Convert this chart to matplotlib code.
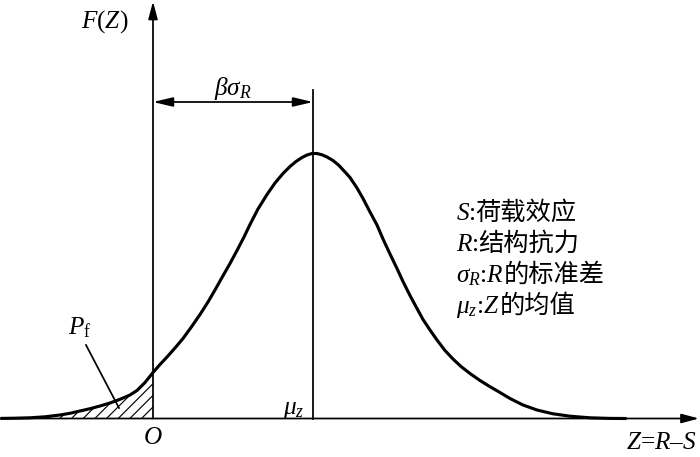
import matplotlib
matplotlib.use("Agg")
import matplotlib.pyplot as plt
from matplotlib.offsetbox import TextArea, HPacker, AnnotationBbox

plt.rcParams["mathtext.fontset"] = "custom"
plt.rcParams["mathtext.it"] = "Liberation Serif:italic"
plt.rcParams["mathtext.rm"] = "Liberation Serif"
plt.rcParams["mathtext.bf"] = "Liberation Serif:bold"
plt.rcParams["hatch.linewidth"] = 0.6

# density curve of Z = R - S (arbitrary units)
z_vals = [-1.51, -1.38, -1.23, -1.08, -0.93, -0.83, -0.73, -0.63, -0.53, -0.43,
          -0.33, -0.23, -0.16, -0.08, 0.00, 0.07, 0.14, 0.22, 0.30, 0.38,
          0.47, 0.55, 0.62, 0.69, 0.77, 0.84, 0.91, 0.97, 1.05, 1.14,
          1.22, 1.30, 1.37, 1.43, 1.49, 1.54, 1.59, 1.64, 1.69, 1.74,
          1.80, 1.86, 1.92, 1.97, 2.04, 2.10, 2.17, 2.24, 2.30, 2.37,
          2.44, 2.50, 2.57, 2.64, 2.70, 2.77, 2.84, 2.92, 3.00, 3.08,
          3.17, 3.27, 3.37, 3.47, 3.57, 3.70, 3.84, 4.00, 4.17, 4.37,
          4.57, 4.72]
f_vals = [0.001, 0.003, 0.007, 0.017, 0.035, 0.052, 0.075, 0.098, 0.125, 0.155,
          0.192, 0.235, 0.280, 0.360, 0.460, 0.540, 0.615, 0.705, 0.800, 0.910,
          1.040, 1.165, 1.285, 1.410, 1.550, 1.680, 1.815, 1.940, 2.095, 2.240,
          2.355, 2.450, 2.520, 2.570, 2.610, 2.635, 2.650, 2.650, 2.637, 2.615,
          2.580, 2.530, 2.465, 2.410, 2.305, 2.200, 2.065, 1.935, 1.795, 1.645,
          1.500, 1.370, 1.230, 1.100, 0.990, 0.885, 0.785, 0.680, 0.595, 0.520,
          0.450, 0.380, 0.318, 0.260, 0.200, 0.135, 0.085, 0.047, 0.023, 0.007,
          0.001, 0.000]
mu_z = 1.60

legend_math = ["$S$:", "$R$:", r"$\sigma_R$:$R$", r"$\mu_z$:$Z$"]
legend_cn = ["荷载效应", "结构抗力", "的标准差", "的均值"]

LATIN = 13
CJK = 13

fig = plt.figure(figsize=(5, 457 / 140), dpi=140)
ax = fig.add_axes([0, 0, 1, 1])
ax.set_xlim(-1.53, 5.47)
ax.set_ylim(-0.385, 4.185)
ax.axis("off")

# failure region P_f
ax.fill_between(z_vals, 0, f_vals, where=[z <= 0 for z in z_vals],
                facecolor="none", edgecolor="k", hatch="////", linewidth=0)
ax.plot(z_vals, f_vals, color="k", lw=1.6, solid_joinstyle="round")

# axes with arrows
axis_arrow = dict(arrowstyle="-|>,head_length=0.75,head_width=0.2",
                  color="k", lw=0.9, shrinkA=0, shrinkB=0, mutation_scale=10)
ax.annotate("", xy=(5.46, 0), xytext=(-1.53, 0), arrowprops=axis_arrow)
ax.annotate("", xy=(0, 4.17), xytext=(0, 0), arrowprops=axis_arrow)

# mean line and beta*sigma dimension
ax.plot([mu_z, mu_z], [0, 3.285], color="k", lw=0.9)
ax.annotate("", xy=(mu_z, 3.165), xytext=(0, 3.165),
            arrowprops=dict(arrowstyle="<|-|>,head_length=0.85,head_width=0.2",
                            color="k", lw=0.9, shrinkA=0, shrinkB=0,
                            mutation_scale=10))
ax.text(mu_z / 2, 3.30, r"$\beta\sigma_R$", fontsize=LATIN, ha="center", va="center")

# labels
ax.text(-0.48, 3.965, r"$F\mathrm{(}Z\mathrm{)}$", fontsize=LATIN, ha="center", va="center")
ax.text(0, -0.18, "$O$", fontsize=LATIN, ha="center", va="center")
ax.text(1.41, 0.095, r"$\mu_z$", fontsize=LATIN, ha="center", va="center")
ax.text(5.44, -0.245, "$Z$=$R$–$S$", fontsize=LATIN, family="Liberation Serif",
        ha="right", va="center")
ax.text(-0.735, 0.905, r"$P_\mathrm{f}$", fontsize=LATIN, ha="center", va="center")
ax.plot([-0.67, -0.34], [0.735, 0.105], color="k", lw=0.9)

# legend block
legend_y = [2.055, 1.745, 1.435, 1.125]
for m, c, y in zip(legend_math, legend_cn, legend_y):
    box = HPacker(children=[
        TextArea(m, textprops=dict(fontsize=LATIN, family="Liberation Serif")),
        TextArea(c, textprops=dict(fontsize=CJK, family="Noto Sans CJK SC")),
    ], align="baseline", pad=0, sep=0)
    ab = AnnotationBbox(box, (3.03, y), xycoords="data", box_alignment=(0, 0.5),
                        frameon=False, pad=0)
    ax.add_artist(ab)

fig.savefig("out.png", dpi=140)
